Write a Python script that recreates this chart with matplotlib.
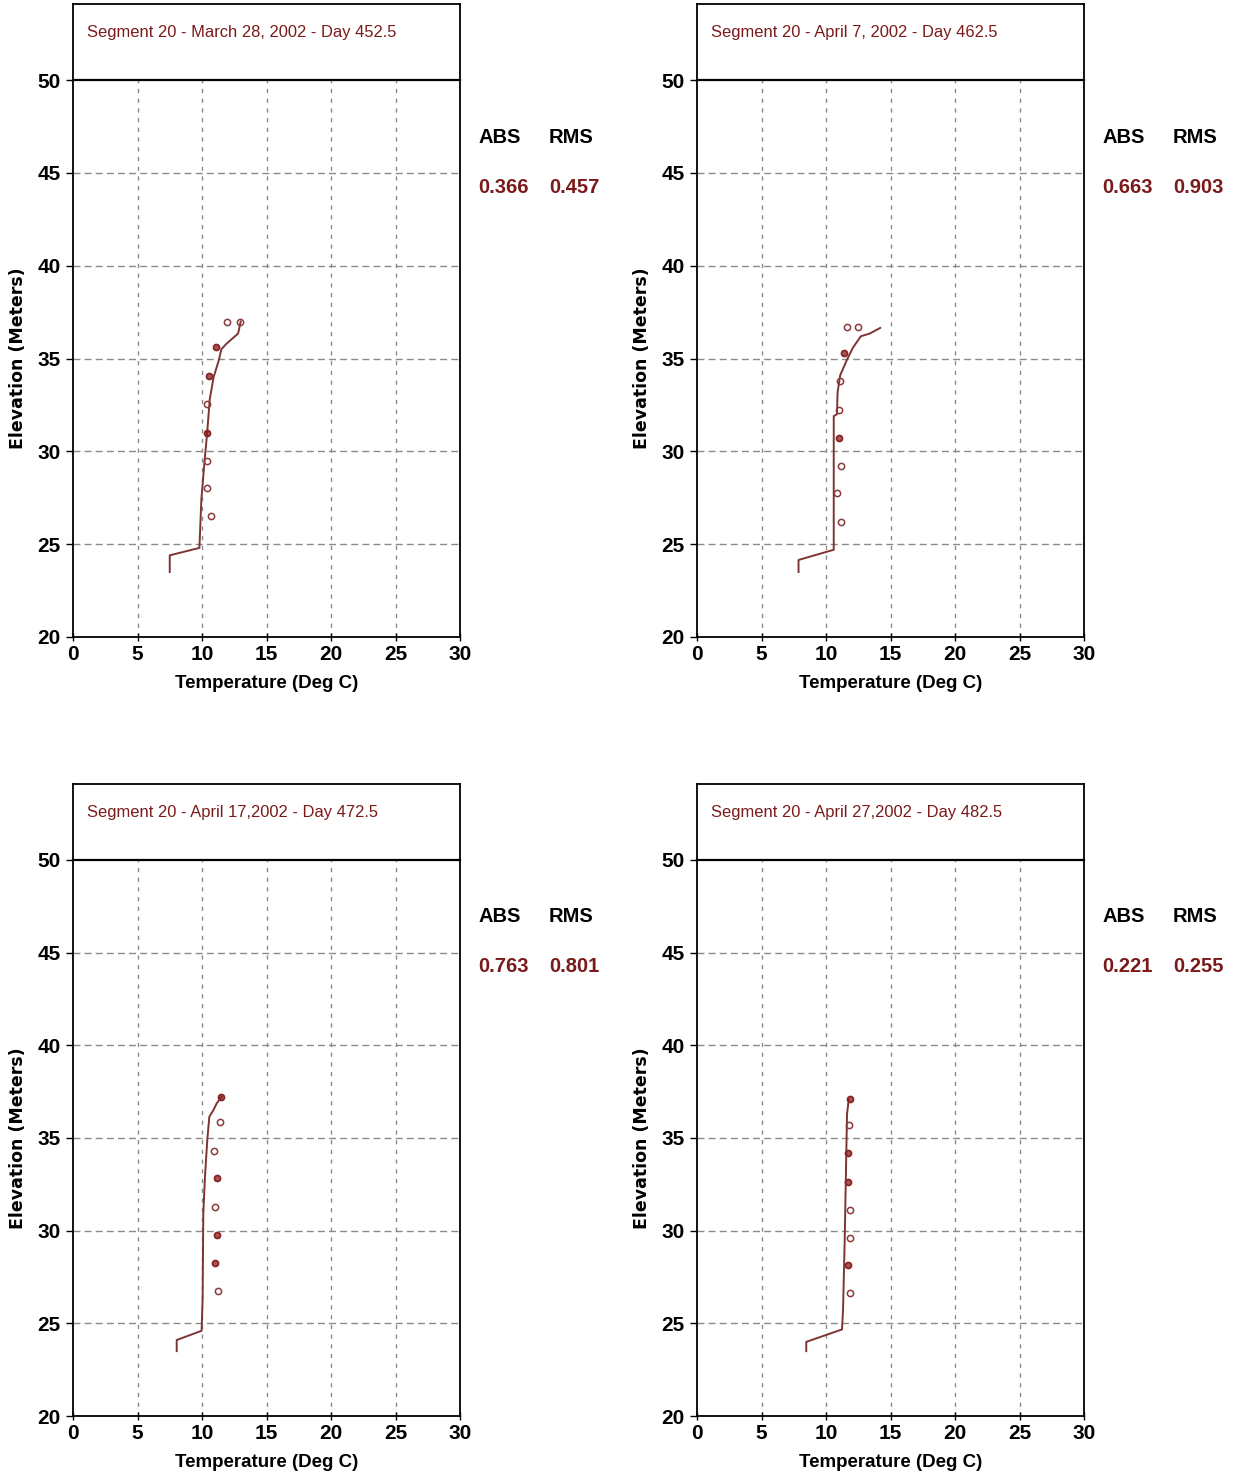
import matplotlib
matplotlib.use("Agg")
import matplotlib.pyplot as plt
from matplotlib import font_manager

names = {f.name for f in font_manager.fontManager.ttflist}
NARROW = "Liberation Sans Narrow" if "Liberation Sans Narrow" in names else "Liberation Sans"
NARROW_OK = NARROW == "Liberation Sans Narrow"

# ---------------- data ----------------
titles = [
    "Segment 20 - March 28, 2002 - Day 452.5",
    "Segment 20 - April 7, 2002 - Day 462.5",
    "Segment 20 - April 17,2002 - Day 472.5",
    "Segment 20 - April 27,2002 - Day 482.5",
]
abs_err = ["0.366", "0.663", "0.763", "0.221"]
rms_err = ["0.457", "0.903", "0.801", "0.255"]

# model profiles (temperature, elevation)
model_t1 = [7.5, 7.5, 9.8, 9.95, 10.2, 10.4, 10.6, 10.9, 11.3, 11.5, 11.9, 12.8, 13.0]
model_e1 = [23.5, 24.4, 24.8, 27.4, 29.5, 31.0, 32.8, 34.0, 34.9, 35.5, 35.8, 36.35, 37.0]
model_t2 = [7.87, 7.87, 10.6, 10.6, 10.85, 10.9, 11.1, 11.6, 12.1, 12.7, 13.4, 14.2]
model_e2 = [23.5, 24.15, 24.7, 31.9, 32.0, 33.2, 34.1, 34.9, 35.6, 36.2, 36.35, 36.65]
model_t3 = [8.04, 8.04, 9.97, 10.05, 10.1, 10.23, 10.41, 10.57, 10.88, 11.14, 11.52]
model_e3 = [23.5, 24.1, 24.6, 26.4, 30.9, 32.9, 34.9, 36.15, 36.5, 36.87, 37.22]
model_t4 = [8.47, 8.47, 11.24, 11.32, 11.45, 11.63, 11.76]
model_e4 = [23.5, 24.0, 24.67, 25.7, 29.5, 36.3, 37.05]

# observed data (temperature, elevation)
obs_t1 = [11.96, 12.95, 11.09, 10.57, 10.41, 10.41, 10.41, 10.36, 10.70]
obs_e1 = [36.95, 36.95, 35.6, 34.06, 32.55, 31.0, 29.5, 28.0, 26.5]
obs_t2 = [11.63, 12.45, 11.43, 11.11, 10.98, 11.03, 11.16, 10.85, 11.19]
obs_e2 = [36.68, 36.68, 35.32, 33.81, 32.23, 30.74, 29.23, 27.74, 26.18]
obs_t3 = [11.44, 11.40, 10.93, 11.14, 11.01, 11.19, 11.01, 11.27]
obs_e3 = [37.22, 35.88, 34.31, 32.82, 31.29, 29.76, 28.23, 26.74]
obs_t4 = [11.83, 11.76, 11.68, 11.68, 11.83, 11.83, 11.71, 11.83]
obs_e4 = [37.08, 35.70, 34.17, 32.64, 31.11, 29.62, 28.14, 26.62]

# observations drawn darker (overlapping readings)
dark_t1 = [11.09, 10.57, 10.41]
dark_e1 = [35.6, 34.06, 31.0]
dark_t2 = [11.43, 11.03]
dark_e2 = [35.32, 30.74]
dark_t3 = [11.44, 11.14, 11.19, 11.01]
dark_e3 = [37.22, 32.82, 29.76, 28.23]
dark_t4 = [11.83, 11.68, 11.68, 11.71]
dark_e4 = [37.08, 34.17, 32.64, 28.14]

x_ticks = [0, 5, 10, 15, 20, 25, 30]
y_ticks = [20, 25, 30, 35, 40, 45, 50]

models = [(model_t1, model_e1), (model_t2, model_e2), (model_t3, model_e3), (model_t4, model_e4)]
obs = [(obs_t1, obs_e1), (obs_t2, obs_e2), (obs_t3, obs_e3), (obs_t4, obs_e4)]
darks = [(dark_t1, dark_e1), (dark_t2, dark_e2), (dark_t3, dark_e3), (dark_t4, dark_e4)]

# ---------------- figure ----------------
W, H = 1234, 1475
fig = plt.figure(figsize=(W / 100, H / 100), dpi=100)
fig.patch.set_facecolor("white")

lefts = [73, 697, 73, 697]
tops = [4, 4, 784, 784]
bottoms = [637, 637, 1416, 1416]
pw = 387

LINE_C = "#7e3434"
OBS_C = "#8c3a3a"
RED_TXT = "#7a1a1a"
GRID_C = "#8a8a8a"

title_fs = 13.5 if NARROW_OK else 11.9
xlab_fs = 14.5 if NARROW_OK else 13.5

for i in range(4):
    l, t, b = lefts[i], tops[i], bottoms[i]
    ax = fig.add_axes([l / W, (H - b) / H, pw / W, (b - t) / H])
    ax.set_xlim(0, 30)
    ax.set_ylim(20, 54.1)
    for s in ax.spines.values():
        s.set_linewidth(1.3)
        s.set_color("black")
    # grid
    for xv in x_ticks[1:-1]:
        ax.plot([xv, xv], [20, 50], color=GRID_C, lw=1.0, ls=(0, (3, 4)), zorder=1)
    for yv in y_ticks[1:-1]:
        ax.plot([0, 30], [yv, yv], color=GRID_C, lw=1.0, ls=(0, (5, 3)), zorder=1)
    ax.axhline(50, color="black", lw=1.6, zorder=2, clip_on=False)

    mt, me = models[i]
    ax.plot(mt, me, color=LINE_C, lw=1.4, zorder=3)
    ot, oe = obs[i]
    ax.plot(ot, oe, ls="none", marker="o", ms=4.5, mfc="none", mec=OBS_C, mew=1.1, zorder=4)
    dt, de = darks[i]
    ax.plot(dt, de, ls="none", marker="o", ms=4, mfc="#8a1f1f", mec="#8a1f1f", mew=1.0, alpha=0.75, zorder=5)

    ax.set_xticks(x_ticks)
    ax.set_yticks(y_ticks)
    ax.set_xticklabels([str(v) for v in x_ticks])
    ax.set_yticklabels([str(v) for v in y_ticks])
    ax.tick_params(axis="x", direction="inout", length=6, width=1, pad=3)
    ax.tick_params(axis="y", direction="out", length=5, width=1, pad=4)
    for lab in ax.get_xticklabels() + ax.get_yticklabels():
        lab.set_fontfamily(NARROW)
        lab.set_fontweight("bold")
        lab.set_fontsize(15)

    ax.text(1.08, 52.55, titles[i], color=RED_TXT, fontsize=title_fs, family=NARROW,
            ha="left", va="center")
    ax.text(15, 17.5, "Temperature (Deg C)", fontsize=xlab_fs, family=NARROW, fontweight="bold",
            ha="center", va="center", clip_on=False)
    ax.text(-4.26, 35, "Elevation (Meters)", fontsize=12.5, family="DejaVu Sans", fontweight="bold",
            rotation=90, ha="center", va="center", clip_on=False)

    ax.text(31.4, 46.93, "ABS", fontsize=14.5, family=NARROW, fontweight="bold",
            ha="left", va="center", clip_on=False)
    ax.text(36.9, 46.93, "RMS", fontsize=14.5, family=NARROW, fontweight="bold",
            ha="left", va="center", clip_on=False)
    ax.text(31.4, 44.24, abs_err[i], fontsize=14.5, family=NARROW, fontweight="bold",
            color=RED_TXT, ha="left", va="center", clip_on=False)
    ax.text(36.9, 44.24, rms_err[i], fontsize=14.5, family=NARROW, fontweight="bold",
            color=RED_TXT, ha="left", va="center", clip_on=False)

fig.savefig("out.png", dpi=100, facecolor="white")
